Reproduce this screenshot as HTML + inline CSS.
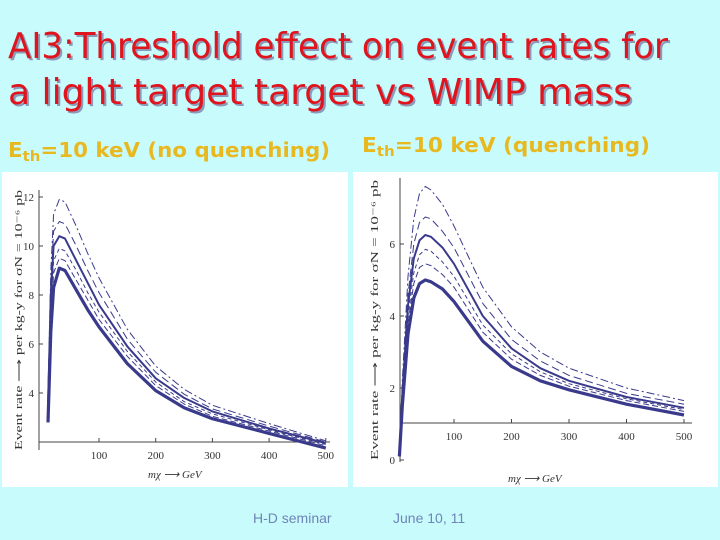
<!DOCTYPE html>
<html><head><meta charset="utf-8"><style>
html,body{margin:0;padding:0;background:#c8fcfc;}
svg{display:block;font-family:"Liberation Sans",sans-serif;}
</style></head><body>
<svg id="s" width="720" height="540" viewBox="0 0 720 540">
<rect x="0" y="0" width="720" height="540" fill="#c8fcfc"/>
<g font-size="36" fill="#e0141c" font-family="DejaVu Sans Condensed, DejaVu Sans, sans-serif">
<text x="10" y="60" fill="#8a9ab8" textLength="660" lengthAdjust="spacingAndGlyphs">AI3:Threshold effect on event rates for</text>
<text x="8" y="58" textLength="660" lengthAdjust="spacingAndGlyphs">AI3:Threshold effect on event rates for</text>
<text x="10" y="106" fill="#8a9ab8" textLength="624" lengthAdjust="spacingAndGlyphs">a light target  target vs WIMP mass</text>
<text x="8" y="104" textLength="624" lengthAdjust="spacingAndGlyphs">a light target  target vs WIMP mass</text>
</g>
<g font-weight="bold" font-size="20" fill="#e8b820" font-family="DejaVu Sans, sans-serif">
<text x="8" y="157" textLength="322" lengthAdjust="spacingAndGlyphs">E<tspan font-size="14" dy="4">th</tspan><tspan dy="-4">=10 keV (no quenching)</tspan></text>
<text x="362" y="152" textLength="288" lengthAdjust="spacingAndGlyphs">E<tspan font-size="14" dy="4">th</tspan><tspan dy="-4">=10 keV (quenching)</tspan></text>
</g>
<rect x="2" y="172" width="346" height="315" fill="#fff"/>
<rect x="353" y="172" width="365" height="315" fill="#fff"/>
<g id="left"></g>
<g id="right"></g>
<text x="253" y="523" font-size="14" fill="#6f84b8">H-D seminar</text>
<text x="393" y="523" font-size="14" fill="#6f84b8">June 10, 11</text>
</svg>
<script>
// Left chart data (no quenching)
const leftX = [10,15,20,30,40,60,80,100,150,200,250,300,400,500];
const leftS1 = [2.8,6.5,8.3,9.1,9.0,8.2,7.4,6.7,5.2,4.1,3.4,2.95,2.35,1.75];
const leftS2 = [3.0,7.0,8.9,9.5,9.4,8.6,7.8,7.0,5.5,4.3,3.55,3.05,2.45,1.85];
const leftS3 = [3.2,7.5,9.4,9.9,9.8,9.0,8.1,7.3,5.7,4.45,3.65,3.15,2.5,1.9];
const leftS4 = [3.4,8.0,10.0,10.4,10.3,9.4,8.5,7.6,5.9,4.6,3.8,3.25,2.55,1.95];
const leftS5 = [3.6,8.5,10.6,11.0,10.9,10.0,9.0,8.1,6.2,4.85,3.95,3.35,2.65,2.0];
const leftS6 = [3.8,9.0,11.3,11.9,11.8,10.8,9.7,8.7,6.6,5.1,4.15,3.5,2.75,2.05];
const leftXTicks = [100,200,300,400,500];
const leftYTicks = [4,6,8,10,12];
// Right chart data (quenching)
const rightX = [5,10,20,30,40,50,60,80,100,150,200,250,300,400,500];
const rightS1 = [0.1,1.5,3.5,4.5,4.9,5.0,4.95,4.75,4.4,3.3,2.6,2.2,1.95,1.55,1.25];
const rightS2 = [0.1,1.6,3.8,4.9,5.35,5.45,5.4,5.15,4.8,3.55,2.8,2.35,2.05,1.65,1.35];
const rightS3 = [0.1,1.7,4.0,5.2,5.7,5.85,5.8,5.5,5.1,3.75,2.95,2.45,2.12,1.7,1.4];
const rightS4 = [0.1,1.8,4.3,5.6,6.1,6.25,6.2,5.9,5.45,4.0,3.1,2.55,2.2,1.75,1.45];
const rightS5 = [0.1,2.0,4.6,6.0,6.6,6.75,6.7,6.35,5.9,4.35,3.35,2.75,2.35,1.85,1.55];
const rightS6 = [0.1,2.2,5.1,6.7,7.4,7.6,7.5,7.1,6.5,4.8,3.7,3.0,2.55,2.0,1.65];
const rightXTicks = [100,200,300,400,500];
const rightYTicks = [0,2,4,6];

const NS='http://www.w3.org/2000/svg';
const styles=[{w:3.2,d:''},{w:1,d:'6,3'},{w:1,d:'4,3'},{w:2,d:''},{w:1,d:'8,4'},{w:1,d:'8,3,2,3'}];
function mk(tag,attrs,parent){const e=document.createElementNS(NS,tag);for(const k in attrs)e.setAttribute(k,attrs[k]);parent.appendChild(e);return e;}

function drawChart(g,cfg){
  const sx=v=>cfg.x0+v*cfg.kx, sy=v=>cfg.y0-(v-cfg.yb)*cfg.ky;
  const ax=mk('line',{x1:cfg.axX,x2:cfg.x2,y1:cfg.axY,y2:cfg.axY,stroke:'#444','stroke-width':1},g);
  
  
  const ay=mk('line',{x1:cfg.axX,x2:cfg.axX,y1:cfg.yTop,y2:cfg.yBot,stroke:'#444','stroke-width':1},g);
  
  
  cfg.xt.forEach(t=>{
    mk('line',{x1:sx(t),x2:sx(t),y1:cfg.axY,y2:cfg.axY-4,stroke:'#444'},g);
    const tx=mk('text',{x:sx(t),y:cfg.axY+17,'font-size':11,'text-anchor':'middle','font-family':'Liberation Serif, serif',fill:'#333'},g);
    tx.textContent=t;
    
    
  });
  cfg.yt.forEach(t=>{
    mk('line',{x1:cfg.axX,x2:cfg.axX+4,y1:sy(t),y2:sy(t),stroke:'#444'},g);
    const tx=mk('text',{x:cfg.axX-5,y:sy(t)+4,'font-size':11,'text-anchor':'end','font-family':'Liberation Serif, serif',fill:'#333'},g);
    tx.textContent=t;
    
    
  });
  cfg.series.forEach((s,i)=>{
    let d='';cfg.xs.forEach((x,j)=>{d+=(j?'L':'M')+sx(x).toFixed(1)+','+sy(s[j]).toFixed(1);});
    const p=mk('path',{d:d,fill:'none',stroke:'#3a3a8c','stroke-width':styles[i].w,'stroke-dasharray':styles[i].d,'stroke-linejoin':'round'},g);
    
    
  });
  const xl=mk('text',{x:cfg.xlx,y:cfg.xly,'font-size':11,'font-family':'Liberation Serif, serif','font-style':'italic',fill:'#333'},g);
  xl.textContent='m\u03C7 \u27F6 GeV';
  
  
  const yl=mk('text',{x:0,y:0,'font-size':10,'font-family':'Liberation Serif, serif',fill:'#333','text-anchor':'middle',transform:'translate('+cfg.ylx+','+cfg.yly+') rotate(-90)',textLength:cfg.ylen,lengthAdjust:'spacingAndGlyphs'},g);
  yl.textContent='Event rate \u27F6 per kg-y for \u03C3N = 10\u207B\u2076 pb';
  
  
}
drawChart(document.getElementById('left'),{x0:42.3,kx:0.567,y0:442,yb:2,ky:24.5,axX:39,axY:442,x2:330,yTop:190,yBot:450,
  xs:leftX,series:[leftS1,leftS2,leftS3,leftS4,leftS5,leftS6],xt:leftXTicks,yt:leftYTicks,xlx:148,xly:478,ylx:22,yly:320,ylen:260});
drawChart(document.getElementById('right'),{x0:396.5,kx:0.575,y0:460,yb:0,ky:36,axX:400,axY:423,x2:692,yTop:178,yBot:462,
  xs:rightX,series:[rightS1,rightS2,rightS3,rightS4,rightS5,rightS6],xt:rightXTicks,yt:rightYTicks,xlx:508,xly:482,ylx:378,yly:320,ylen:280});
</script>
</body></html>
